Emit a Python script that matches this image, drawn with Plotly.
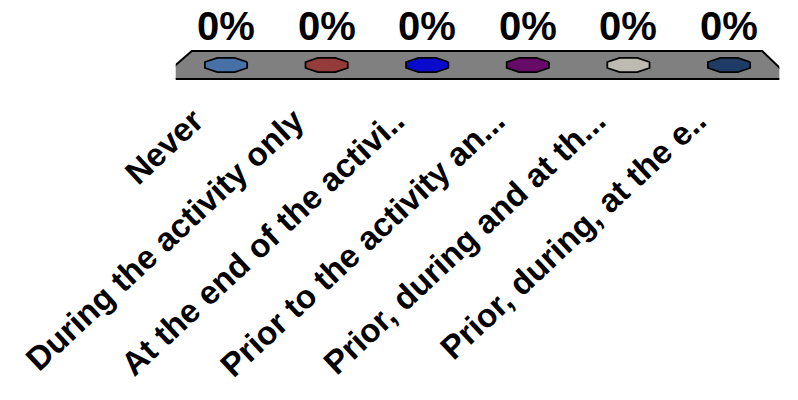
import numpy as np
import plotly.graph_objects as go

# Response options and the share of votes for each
categories = [
    "Never",
    "During the activity only",
    "At the end of the activi..",
    "Prior to the activity an...",
    "Prior, during and at th...",
    "Prior, during, at the e..",
]
values = [0, 0, 0, 0, 0, 0]
bar_colors = ["#4670A6", "#953B3A", "#0A0ACC", "#650A66", "#BDBAB2", "#1E3C66"]

FONT = "Liberation Sans, Arial, sans-serif"

fig = go.Figure()

# Floor plane under the bars (in axis units)
floor_x_top = (-0.5 + 0.16, 5.5 - 0.17)
floor_x_bot = (-0.5 - 0.16, 5.5 + 0.12)
floor_depth = 0.7
fig.add_shape(
    type="path",
    xref="x", yref="y",
    path=(f"M {floor_x_bot[0]} {-floor_depth} L {floor_x_top[0]} {floor_depth} "
          f"L {floor_x_top[1]} {floor_depth} L {floor_x_bot[1]} {-floor_depth} Z"),
    fillcolor="#808080",
    line=dict(color="#000000", width=2),
    layer="below",
)

# Zero-height bars: only their octagonal top face is visible on the floor
ang = np.deg2rad(22.5 + 45 * np.arange(9))
half_w, half_h = 0.21, 0.36
for i, (v, c) in enumerate(zip(values, bar_colors)):
    fig.add_trace(go.Scatter(
        x=i + half_w * np.cos(ang) / np.cos(np.deg2rad(22.5)),
        y=v + half_h * np.sin(ang) / np.sin(np.deg2rad(67.5)),
        mode="lines",
        fill="toself",
        fillcolor=c,
        line=dict(color="#000000", width=1.8),
        hoverinfo="skip",
        showlegend=False,
    ))

# Value labels above each bar
for i, v in enumerate(values):
    fig.add_annotation(
        x=i, y=v, xref="x", yref="y",
        text=f"<b>{v:.0%}</b>",
        showarrow=False,
        yanchor="bottom",
        yshift=15,
        font=dict(family=FONT, size=40, color="#000000"),
    )

# Category axis carrying the rotated labels
fig.add_trace(go.Scatter(
    x=categories, y=values, xaxis="x2", yaxis="y",
    mode="markers", marker=dict(opacity=0),
    hoverinfo="skip", showlegend=False,
))

fig.update_layout(
    width=798, height=400,
    margin=dict(l=0, r=0, t=0, b=0),
    paper_bgcolor="#FFFFFF",
    plot_bgcolor="rgba(0,0,0,0)",
    showlegend=False,
    xaxis=dict(domain=[0.2202, 0.9766], range=[-0.5, 5.5], visible=False,
               automargin=False),
    yaxis=dict(domain=[0.7875, 0.8875], range=[-1, 1], visible=False,
               automargin=False),
    xaxis2=dict(
        domain=[0.1801, 0.9365], range=[-0.5, 5.5],
        anchor="free", position=0.765,
        showgrid=False, zeroline=False, showline=False, ticks="",
        tickangle=-43,
        tickfont=dict(family=FONT, size=33, color="#000000", weight="bold"),
        type="category",
        automargin=False,
    ),
)

fig.write_html("out.html")
